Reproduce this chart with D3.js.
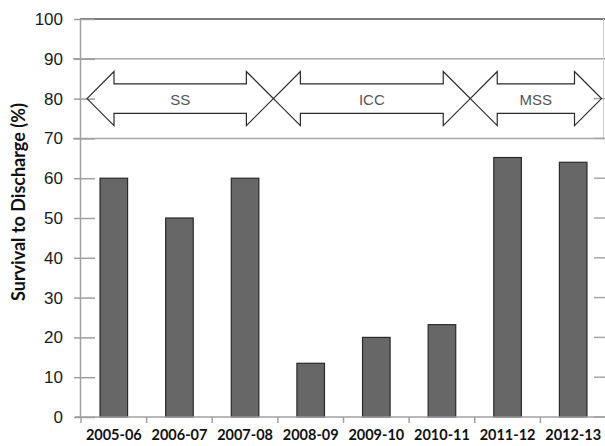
<!DOCTYPE html>
<html>
<head>
<meta charset="utf-8">
<script src="https://cdn.jsdelivr.net/npm/d3@7"></script>
<style>
  html, body { margin: 0; padding: 0; background: #fff; }
  svg { display: block; }
</style>
</head>
<body>
<svg id="chart" width="605" height="446"></svg>
<script>
// ---- data ----
const categories = ["2005-06", "2006-07", "2007-08", "2008-09", "2009-10", "2010-11", "2011-12", "2012-13"];
const survival = [60, 50, 60, 13.5, 20, 23.2, 65.2, 64];
const yTicks = [0, 10, 20, 30, 40, 50, 60, 70, 80, 90, 100];
const gridValues = [70, 90];
const phaseLabels = ["SS", "ICC", "MSS"];
const phaseFirst = ["2005-06", "2008-09", "2011-12"];
const phaseLast = ["2007-08", "2010-11", "2012-13"];
const phaseLevel = 80;
const yTitle = "Survival to Discharge (%)";

// ---- layout ----
const svg = d3.select("#chart");
const x = d3.scaleBand().domain(categories).range([81, 606]).paddingInner(0.58).paddingOuter(0.29);
const xb = d3.scaleBand().domain(categories).range([81, 606]);
const y = d3.scaleLinear().domain([0, 100]).range([417, 19]);
const axisX = 80;

// gridlines across (70, 90)
svg.selectAll("line.grid").data(gridValues).join("line")
  .attr("class", "grid")
  .attr("x1", 73).attr("x2", 605)
  .attr("y1", d => y(d)).attr("y2", d => y(d))
  .attr("stroke", "#a8a8a8").attr("stroke-width", 1.5);

// top line at 100
svg.append("line")
  .attr("x1", axisX).attr("x2", 605)
  .attr("y1", y(100)).attr("y2", y(100))
  .attr("stroke", "#505050").attr("stroke-width", 1.6);

// right edge of top box
svg.append("line")
  .attr("x1", 603.5).attr("x2", 603.5)
  .attr("y1", y(100)).attr("y2", y(70))
  .attr("stroke", "#d0d0d0").attr("stroke-width", 1);

// right-side ticks
svg.selectAll("line.rtick").data(yTicks.filter(d => d <= 80)).join("line")
  .attr("class", "rtick")
  .attr("x1", 594).attr("x2", 605)
  .attr("y1", d => y(d)).attr("y2", d => y(d))
  .attr("stroke", "#a8a8a8").attr("stroke-width", 1.5);

// y axis
const yAxis = d3.axisLeft(y).tickValues(yTicks).tickSizeInner(6).tickSizeOuter(0).tickPadding(11);
const gy = svg.append("g").attr("transform", `translate(${axisX},0)`).call(yAxis);
gy.select(".domain").attr("stroke", "#a0a0a0").attr("stroke-width", 1.5);
gy.selectAll(".tick line").attr("x1", -6).attr("x2", 15).attr("stroke", "#a0a0a0").attr("stroke-width", 1.5);
gy.selectAll(".tick text")
  .attr("font-family", "'Liberation Sans', Arial, sans-serif")
  .attr("font-size", 17).attr("fill", "#1a1a1a");

// bars
svg.selectAll("rect.bar").data(categories).join("rect")
  .attr("class", "bar")
  .attr("x", d => x(d))
  .attr("width", x.bandwidth())
  .attr("y", (d, i) => y(survival[i]))
  .attr("height", (d, i) => y(0) - y(survival[i]))
  .attr("fill", "#676767")
  .attr("stroke", "#2a2a2a").attr("stroke-width", 1.2);

// x axis
const xAxis = d3.axisBottom(xb).tickSize(0).tickPadding(13);
const gx = svg.append("g").attr("transform", `translate(0,${y(0)})`).call(xAxis);
gx.select(".domain").remove();
gx.selectAll(".tick text")
  .attr("font-family", "Lato, 'Open Sans', sans-serif")
  .attr("font-weight", "bold")
  .attr("font-size", 14.5).attr("fill", "#111");
svg.append("line")
  .attr("x1", 75).attr("x2", 605)
  .attr("y1", y(0)).attr("y2", y(0))
  .attr("stroke", "#a0a0a0").attr("stroke-width", 1.5);
const bounds = categories.map(c => xb(c));
svg.selectAll("line.xtick").data(bounds).join("line")
  .attr("class", "xtick")
  .attr("x1", d => d).attr("x2", d => d)
  .attr("y1", y(0)).attr("y2", y(0) + 6)
  .attr("stroke", "#a0a0a0").attr("stroke-width", 1.5);

// y title
svg.append("text")
  .attr("transform", `translate(25,${y(54)}) rotate(-90)`)
  .attr("text-anchor", "middle")
  .attr("font-family", "Lato, 'Open Sans', sans-serif")
  .attr("font-weight", "bold")
  .attr("font-size", 18).attr("fill", "#111")
  .text(yTitle);

// phase arrows
const headLen = 27;
const shaftHalf = y(0) - y(3.7);
const headHalf = y(0) - y(6.8);
const cy = y(phaseLevel);
phaseLabels.forEach((lab, i) => {
  const left = i === 0 ? xb(phaseFirst[i]) + 6 : xb(phaseFirst[i]) - 4.5;
  const right = xb(phaseLast[i]) + xb.bandwidth() - 4.5;
  const pts = [
    [left, cy],
    [left + headLen, cy - headHalf],
    [left + headLen, cy - shaftHalf],
    [right - headLen, cy - shaftHalf],
    [right - headLen, cy - headHalf],
    [right, cy],
    [right - headLen, cy + headHalf],
    [right - headLen, cy + shaftHalf],
    [left + headLen, cy + shaftHalf],
    [left + headLen, cy + headHalf]
  ];
  svg.append("path")
    .attr("d", d3.line()(pts) + "Z")
    .attr("fill", "none")
    .attr("stroke", "#2a2a2a").attr("stroke-width", 1.2);
  svg.append("text")
    .attr("x", (left + right) / 2).attr("y", cy + 6)
    .attr("text-anchor", "middle")
    .attr("font-family", "'Liberation Sans', Arial, sans-serif")
    .attr("font-size", 15).attr("fill", "#555")
    .text(lab);
});
</script>
</body>
</html>
